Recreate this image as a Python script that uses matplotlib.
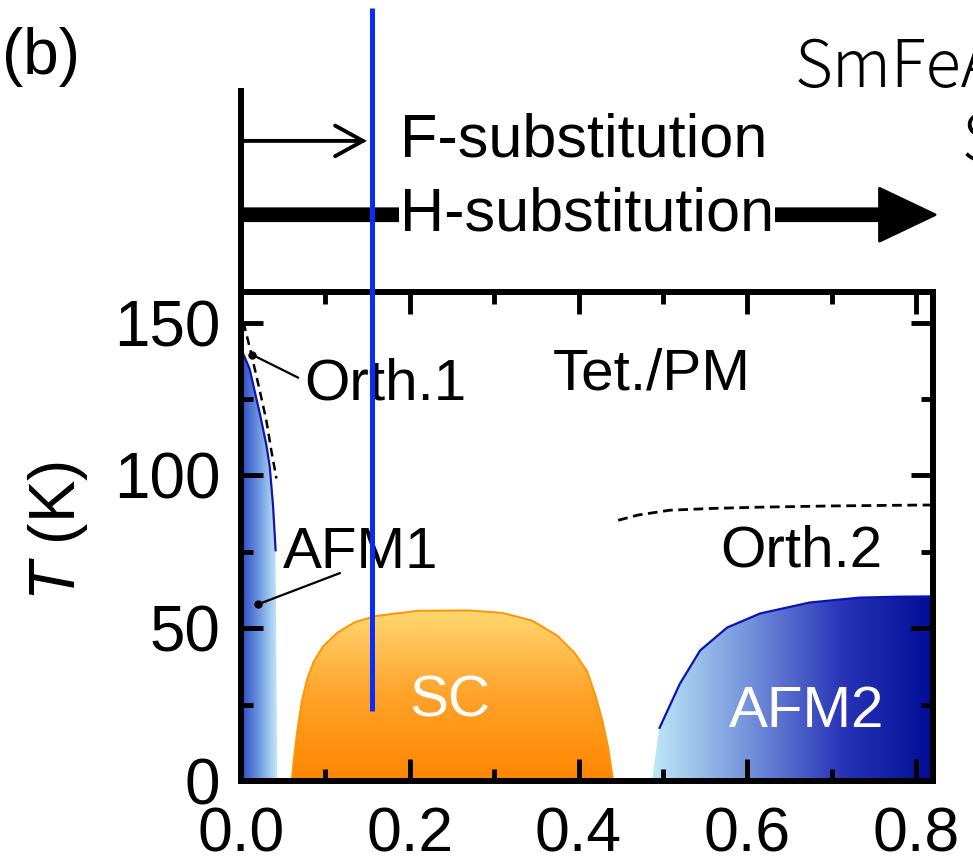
import numpy as np
import matplotlib
matplotlib.use("Agg")
import matplotlib.pyplot as plt
from matplotlib.patches import Polygon, FancyArrowPatch
from matplotlib.colors import LinearSegmentedColormap
from matplotlib.ticker import MultipleLocator

plt.rcParams["font.family"] = ["Liberation Sans", "DejaVu Sans"]
plt.rcParams["mathtext.fontset"] = "custom"
plt.rcParams["mathtext.rm"] = "Liberation Sans"
plt.rcParams["mathtext.it"] = "Liberation Sans:italic"

# phase boundaries, x = substitution level, T in K
afm1_x = [0.0, 0.0, 0.005, 0.012, 0.0225, 0.030, 0.034, 0.038, 0.041, 0.043]
afm1_t = [0.0, 140.0, 139.0, 134.0, 120.0, 110.0, 103.0, 90.0, 75.5, 0.0]
afm1_line_x = [0.003, 0.010, 0.0225, 0.030, 0.034, 0.038, 0.041]
afm1_line_t = [139.5, 135.0, 120.0, 110.0, 103.0, 90.0, 75.5]

orth1_x = [0.003, 0.012, 0.022, 0.030, 0.036, 0.042]
orth1_t = [150.0, 140.0, 128.0, 118.0, 108.0, 99.0]

sc_x = [0.060, 0.063, 0.067, 0.072, 0.078, 0.086, 0.097, 0.114, 0.135, 0.160,
        0.210, 0.270, 0.310, 0.345, 0.375, 0.395, 0.410, 0.420, 0.428, 0.435, 0.441]
sc_t = [0.0, 8.0, 17.0, 26.0, 33.0, 39.0, 44.0, 48.5, 52.0, 54.0,
        55.7, 55.8, 55.0, 52.5, 47.5, 42.0, 36.0, 28.0, 20.0, 11.0, 0.0]

afm2_x = [0.496, 0.520, 0.544, 0.576, 0.615, 0.674, 0.733, 0.780, 0.820]
afm2_t = [17.4, 31.8, 42.7, 50.2, 54.8, 58.4, 60.0, 60.3, 60.4]
afm2_base_x = [0.487, 0.490, 0.493]
afm2_base_t = [0.0, 6.0, 12.0]

orth2_x = [0.447, 0.470, 0.508, 0.560, 0.615, 0.700, 0.808, 0.820]
orth2_t = [85.3, 87.0, 88.6, 89.2, 89.6, 90.0, 90.3, 90.3]

orth1_dot = (0.013, 139.5)
afm1_dot = (0.020, 57.8)

x_ticks = [0.0, 0.2, 0.4, 0.6, 0.8]
x_tick_labels = ["0.0", "0.2", "0.4", "0.6", "0.8"]
y_ticks = [0, 50, 100, 150]

marker_x = 0.155
marker_t = [23.0, 253.0]

XMAX, TMAX = 0.82, 160.0

cmap_afm1 = LinearSegmentedColormap.from_list("afm1", ["#2a48c4", "#6f9ae0", "#c8ecfa"])
cmap_afm2 = LinearSegmentedColormap.from_list("afm2", ["#bde8f8", "#7794dc", "#2a36b8", "#000c96"])
cmap_sc = LinearSegmentedColormap.from_list("sc", ["#ff8500", "#ffa32a", "#ffd872"])


def gradient_fill(ax, xs, ys, cmap, axis, extent):
    poly = Polygon(np.column_stack([xs, ys]), closed=True,
                   facecolor="none", edgecolor="none")
    ax.add_patch(poly)
    g = np.linspace(0, 1, 256)
    img = g[None, :] if axis == "x" else g[:, None]
    im = ax.imshow(img, cmap=cmap, extent=extent, origin="lower",
                   aspect="auto", interpolation="bilinear", zorder=1)
    im.set_clip_path(poly)


fig = plt.figure(figsize=(9.73, 8.67), dpi=100)
ax = fig.add_axes([241 / 973, 1 - 781 / 867, 692 / 973, 489 / 867])

# AFM1
gradient_fill(ax, afm1_x, afm1_t, cmap_afm1, "x", (0.0, 0.043, 0, 140))
ax.plot(afm1_line_x, afm1_line_t, color="#1414a8", lw=1.6, zorder=3)
ax.plot(orth1_x, orth1_t, color="black", lw=1.8, dashes=(3.5, 2.2), zorder=3)

# SC dome
gradient_fill(ax, sc_x, sc_t, cmap_sc, "y", (0.06, 0.441, 0, 56))
ax.plot(sc_x, sc_t, color="#ff9500", lw=1.4, zorder=2)

# AFM2
afm2_poly_x = afm2_base_x + afm2_x + [XMAX, afm2_base_x[0]]
afm2_poly_t = afm2_base_t + afm2_t + [0.0, 0.0]
gradient_fill(ax, afm2_poly_x, afm2_poly_t, cmap_afm2, "x", (0.487, XMAX, 0, 61))
ax.plot(afm2_x, afm2_t, color="#0a14b4", lw=1.6, zorder=3)
ax.plot(orth2_x, orth2_t, color="black", lw=2.0, dashes=(3.5, 2.0), zorder=3)

# leader lines to the structural transitions
ax.plot([orth1_dot[0], 0.0675], [orth1_dot[1], 132.0], color="black", lw=1.6, zorder=4)
ax.plot([afm1_dot[0], 0.117], [afm1_dot[1], 68.0], color="black", lw=1.6, zorder=4)
ax.plot(*orth1_dot, "o", color="black", ms=5, zorder=5)
ax.plot(*afm1_dot, "o", color="black", ms=5, zorder=5)

fs = 42
ax.text(0.075, 129.6, "Orth.1", fontsize=fs, ha="left", va="center")
ax.text(0.05, 74.5, "AFM1", fontsize=fs, ha="left", va="center")
ax.text(0.37, 133.0, "Tet./PM", fontsize=fs, ha="left", va="center")
ax.text(0.568, 75.0, "Orth.2", fontsize=fs, ha="left", va="center")
ax.text(0.2476, 26.0, "SC", fontsize=fs, color="white", ha="center", va="center", zorder=6)
ax.text(0.67, 22.6, "AFM2", fontsize=fs, color="white", ha="center", va="center", zorder=6)

ax.set_xlim(0, XMAX)
ax.set_ylim(0, TMAX)
ax.set_xticks(x_ticks)
ax.set_xticklabels(x_tick_labels)
ax.set_yticks(y_ticks)
ax.xaxis.set_minor_locator(MultipleLocator(0.1))
ax.yaxis.set_minor_locator(MultipleLocator(25))
ax.tick_params(which="both", direction="in", top=True, right=True, width=3.5,
               labelsize=46)
ax.tick_params(axis="x", labelsize=45)
ax.tick_params(which="major", length=16)
ax.tick_params(which="minor", length=8.5)
ax.tick_params(axis="x", pad=18)
ax.tick_params(axis="y", pad=15)
for sp in ax.spines.values():
    sp.set_linewidth(4.3)
    sp.set_zorder(10)

ax.set_ylabel("$T$ (K)", fontsize=46)
ax.yaxis.set_label_coords(-0.218, 0.512)

# substitution arrows above the panel
ta = ax.transAxes
ax.plot([0, 0], [1.0, 1.418], transform=ta, color="black", lw=4.3,
        clip_on=False, solid_capstyle="butt")
f_arrow = FancyArrowPatch((0.0, 1.309), (0.182, 1.309), transform=ta,
                          arrowstyle="->,head_length=20,head_width=11",
                          mutation_scale=1, lw=2.8, color="black",
                          shrinkA=0, shrinkB=0, clip_on=False, joinstyle="miter")
ax.add_patch(f_arrow)
ax.text(0.2298, 1.309, "F-substitution", transform=ta, fontsize=44,
        ha="left", va="center")
h_arrow = FancyArrowPatch((0.0, 1.158), (1.003, 1.158), transform=ta,
                          arrowstyle="simple,tail_width=8.6,head_width=38,head_length=40",
                          mutation_scale=1, lw=2, facecolor="black", edgecolor="black",
                          shrinkA=0, shrinkB=0, clip_on=False, joinstyle="round")
ax.add_patch(h_arrow)
ax.text(0.2298, 1.158, "H-substitution", transform=ta, fontsize=44,
        ha="left", va="center",
        bbox=dict(facecolor="white", edgecolor="none", pad=1.0))

# marker line
ax.plot([marker_x, marker_x], marker_t, color="#0a2cf5", lw=3.6,
        clip_on=False, zorder=20, solid_capstyle="butt")

fig.text(2 / 973, 1 - 57 / 867, "(b)", fontsize=46, ha="left", va="center")
fig.text(795 / 973, 1 - 69 / 867, "SmFeAsO", fontsize=47,
         family=["Noto Sans CJK JP", "DejaVu Sans"], weight="light",
         ha="left", va="center")
fig.text(962 / 973, 1 - 143 / 867, "SmFeAsO", fontsize=47,
         family=["Noto Sans CJK JP", "DejaVu Sans"], weight="light",
         ha="left", va="center")

fig.savefig("out.png", dpi=100)
